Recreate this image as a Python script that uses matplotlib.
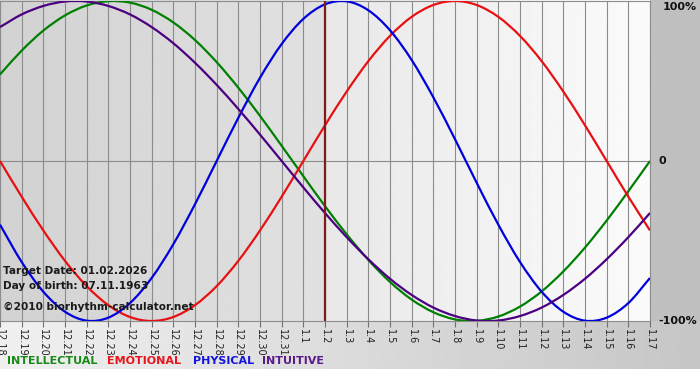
import numpy as np
import matplotlib
matplotlib.use("Agg")
import matplotlib.pyplot as plt
from matplotlib.path import Path
from matplotlib.patches import PathPatch

# ---------------- data ----------------
tick_labels = ["12.18", "12.19", "12.20", "12.21", "12.22", "12.23", "12.24", "12.25",
               "12.26", "12.27", "12.28", "12.29", "12.30", "12.31", "1.1", "1.2",
               "1.3", "1.4", "1.5", "1.6", "1.7", "1.8", "1.9", "1.10", "1.11",
               "1.12", "1.13", "1.14", "1.15", "1.16", "1.17"]
target_label = "1.2"

intellectual = [0.541, 0.690, 0.815, 0.910, 0.972, 0.999, 0.990, 0.945, 0.866, 0.756,
                0.618, 0.458, 0.282, 0.095, -0.095, -0.282, -0.458, -0.618, -0.756, -0.866,
                -0.945, -0.990, -0.999, -0.972, -0.910, -0.815, -0.690, -0.541, -0.372, -0.189,
                0.000]
emotional = [0.000, -0.223, -0.434, -0.624, -0.782, -0.901, -0.975, -1.000, -0.975, -0.901,
             -0.782, -0.624, -0.434, -0.223, 0.000, 0.223, 0.434, 0.624, 0.782, 0.901,
             0.975, 1.000, 0.975, 0.901, 0.782, 0.624, 0.434, 0.223, 0.000, -0.223,
             -0.434]
physical = [-0.398, -0.631, -0.817, -0.942, -0.998, -0.979, -0.888, -0.731, -0.520, -0.270,
            0.000, 0.270, 0.520, 0.731, 0.888, 0.979, 0.998, 0.942, 0.817, 0.631,
            0.398, 0.136, -0.136, -0.398, -0.631, -0.817, -0.942, -0.998, -0.979, -0.888,
            -0.731]
intuitive = [0.837, 0.916, 0.969, 0.997, 0.997, 0.969, 0.916, 0.837, 0.736, 0.614,
             0.476, 0.325, 0.165, 0.000, -0.165, -0.325, -0.476, -0.614, -0.736, -0.837,
             -0.916, -0.969, -0.997, -0.997, -0.969, -0.916, -0.837, -0.736, -0.614, -0.476,
             -0.325]

series_names = ["INTELLECTUAL", "EMOTIONAL", "PHYSICAL", "INTUITIVE"]
line_colors = ["#008000", "#e81010", "#0000dd", "#4b0082"]
legend_colors = ["#178a17", "#e8141c", "#1414dc", "#5a1a8a"]
info_lines = ["Target Date: 01.02.2026", "Day of birth: 07.11.1963",
              "\u00a92010 biorhythm-calculator.net"]
y_labels = ["100%", "0", "-100%"]

# ---------------- figure ----------------
W, H = 700, 380
fig = plt.figure(figsize=(W / 100, H / 100), dpi=100)
fig.patch.set_facecolor("white")

bg = fig.add_axes([0, 0, 1, 1])
bg.axis("off")

def hgrad(x0, x1, y0, y1, c0, c1):
    g = np.linspace(c0, c1, 256)
    img = np.tile(g, (2, 1))
    bg.imshow(img, cmap="gray", vmin=0, vmax=1, extent=(x0, x1, y1, y0),
              aspect="auto", interpolation="bilinear")

plot_left, plot_right, plot_top, plot_bottom = 0, 650, 1, 321
target_x = plot_left + (plot_right - plot_left) * tick_labels.index(target_label) / (len(tick_labels) - 1)

hgrad(0, target_x, 0, plot_bottom, 0xd2 / 255, 0xe1 / 255)
hgrad(target_x, plot_right, 0, plot_bottom, 0xe8 / 255, 0xfb / 255)
hgrad(plot_right, W, 0, plot_bottom, 0xc0 / 255, 0xc0 / 255)
hgrad(0, W, plot_bottom, 369, 0xf0 / 255, 0xc6 / 255)
bg.set_xlim(0, W)
bg.set_ylim(H, 0)

ax = fig.add_axes([plot_left / W, 1 - plot_bottom / H,
                   (plot_right - plot_left) / W, (plot_bottom - plot_top) / H])
ax.set_facecolor("none")
x = np.arange(len(tick_labels))
ax.set_xlim(0, len(tick_labels) - 1)
ax.set_ylim(-1, 1)

ax.set_xticks(x)
ax.set_xticklabels(tick_labels)
ax.set_yticks([])
ax.grid(axis="x", color="#8c8c8c", lw=0.8)
ax.axhline(0, color="#8c8c8c", lw=0.8, zorder=1)
for s in ax.spines.values():
    s.set_color("#8c8c8c")
    s.set_linewidth(0.8)
ax.tick_params(axis="x", direction="out", length=4, width=0.8, color="#707070",
               labelsize=7, labelcolor="#222222", pad=1.5, labelrotation=270)
for lab in ax.get_xticklabels():
    lab.set_ha("center")
    lab.set_va("top")


def smooth_path(xs, ys):
    """Catmull-Rom style smooth curve through the data points (as a Bezier path)."""
    P = np.column_stack([xs, ys]).astype(float)
    ext = np.vstack([2 * P[0] - P[1], P, 2 * P[-1] - P[-2]])
    verts = [P[0]]
    codes = [Path.MOVETO]
    for i in range(1, len(ext) - 2):
        p0, p1, p2, p3 = ext[i - 1], ext[i], ext[i + 1], ext[i + 2]
        verts += [p1 + (p2 - p0) / 6, p2 - (p3 - p1) / 6, p2]
        codes += [Path.CURVE4] * 3
    return Path(verts, codes)


for vals, col in zip([intellectual, emotional, physical, intuitive], line_colors):
    ax.add_patch(PathPatch(smooth_path(x, vals), fill=False, edgecolor=col,
                           lw=1.6, joinstyle="round", zorder=3))

ax.axvline(tick_labels.index(target_label), color="#821c1c", lw=1.6, zorder=4)

# info text
for txt, yp in zip(info_lines, [271, 286, 307]):
    fig.text(3 / W, 1 - yp / H, txt, fontsize=7.6, fontweight="bold",
             color="#1a1a1a", ha="left", va="center", zorder=10)

# right labels
for txt, yv in zip(y_labels, [1, 0, -1]):
    yp = plot_top + (1 - yv) / 2 * (plot_bottom - plot_top) + (6 if yv == 1 else 0)
    xp = 697 if txt != "0" else 666
    fig.text(xp / W, 1 - yp / H, txt, fontsize=8, fontweight="bold", color="#111111",
             ha="right", va="center")

# legend
leg_x = [7, 107, 193, 262]
for name, col, xp in zip(series_names, legend_colors, leg_x):
    fig.text(xp / W, 1 - 361 / H, name, fontsize=8, fontweight="bold", color=col,
             ha="left", va="center")

fig.savefig("out.png", dpi=100)
